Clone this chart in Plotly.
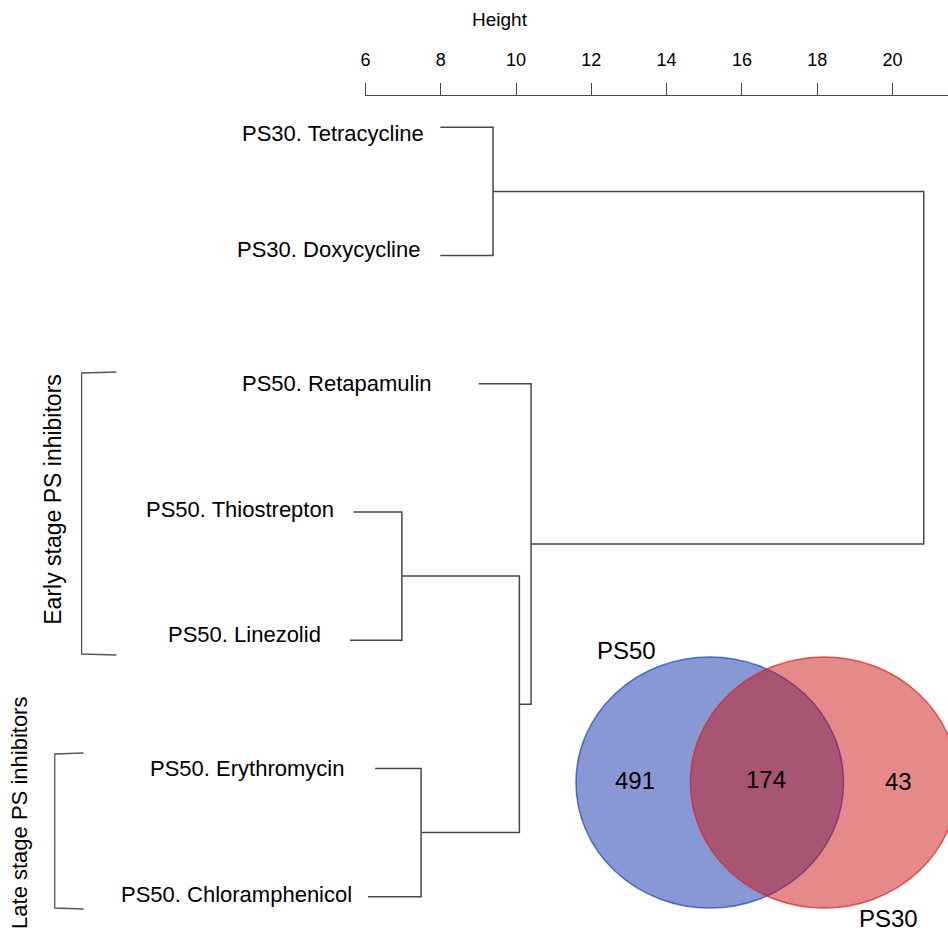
import plotly.graph_objects as go

# ---------------- data ----------------
leaf_labels = ["PS30. Tetracycline", "PS30. Doxycycline", "PS50. Retapamulin",
               "PS50. Thiostrepton", "PS50. Linezolid", "PS50. Erythromycin",
               "PS50. Chloramphenicol"]
leaf_heights = [7.99, 7.99, 9.01, 5.69, 5.59, 6.26, 6.07]
# merges (children: "L#" = leaf index, "C#" = previous merge index)
merge_left = ["L0", "L3", "L5", "C1", "L2", "C0"]
merge_right = ["L1", "L4", "L6", "C2", "C3", "C4"]
merge_height = [9.39, 6.97, 7.48, 10.09, 10.40, 20.83]
height_ticks = [6, 8, 10, 12, 14, 16, 18, 20]

group_labels = ["Early stage PS inhibitors", "Late stage PS inhibitors"]
venn_sets = ["PS50", "PS30"]
venn_counts = [491, 174, 43]  # PS50 only, both, PS30 only

# ---------------- layout helpers (pixel geometry of the 948x937 canvas) ----------------
W, H = 948, 937
PX_X0, PX_PER_UNIT = 362.3, 37.85       # pixel of height 6, pixels per unit
PX_LEAF0, PX_PER_LEAF = 127.3, 128.23   # pixel of first leaf, spacing
x_min = 6 - PX_X0 / PX_PER_UNIT
x_max = 6 + (W - PX_X0) / PX_PER_UNIT
y_top = 1 - PX_LEAF0 / PX_PER_LEAF
y_bot = 1 + (H - PX_LEAF0) / PX_PER_LEAF

def px(x):
    return x / W

def py(y):
    return 1 - y / H

# ---------------- dendrogram segments ----------------
nodes = {}
for i, h in enumerate(leaf_heights):
    nodes["L%d" % i] = (h, i + 1)
xs, ys = [], []
for k, (a, b, h) in enumerate(zip(merge_left, merge_right, merge_height)):
    ax_, ay_ = nodes[a]
    bx_, by_ = nodes[b]
    xs += [ax_, h, h, bx_, None]
    ys += [ay_, ay_, by_, by_, None]
    nodes["C%d" % k] = (h, (ay_ + by_) / 2)

line_col = "#474747"
fig = go.Figure()
fig.add_trace(go.Scatter(x=xs, y=ys, mode="lines",
                         line=dict(color=line_col, width=1.5),
                         hoverinfo="skip", xaxis="x", yaxis="y"))
# invisible trace to host the top "Height" axis
fig.add_trace(go.Scatter(x=[height_ticks[0]], y=[0], mode="markers",
                         marker=dict(opacity=0), hoverinfo="skip",
                         xaxis="x2", yaxis="y2"))

font_main = "Liberation Sans, Arial, sans-serif"
font_narrow = "Liberation Sans Narrow, Liberation Sans, Arial, sans-serif"

annotations = []
# leaf labels: gap (px) to leaf end and vertical shift
label_gap = [14.5, 18.5, 45, 18, 27, 29, 14]
label_shift = [-6, 6, 0, 2, 6, 0, 2]
for i, lab in enumerate(leaf_labels):
    annotations.append(dict(x=leaf_heights[i], y=i + 1, xref="x", yref="y",
                            text=lab, showarrow=False, xanchor="right",
                            yanchor="middle", xshift=-label_gap[i],
                            yshift=label_shift[i],
                            font=dict(family=font_main, size=22, color="black")))
# axis title
annotations.append(dict(x=px(498), y=py(19), xref="paper", yref="paper",
                        text="Height", showarrow=False, xanchor="center",
                        yanchor="middle",
                        font=dict(family=font_narrow, size=19, color="black")))
# group labels (rotated)
grp_pos = [(48, 499), (14, 813)]
grp_size = [23, 22]
for lab, (gx, gy), gs in zip(group_labels, grp_pos, grp_size):
    annotations.append(dict(x=px(gx), y=py(gy), xref="paper", yref="paper",
                            text=lab, showarrow=False, textangle=-90,
                            xanchor="center", yanchor="middle",
                            font=dict(family=font_main, size=gs, color="black")))
# venn labels
set_pos = [(625, 650), (888, 918)]
for lab, (vx, vy) in zip(venn_sets, set_pos):
    annotations.append(dict(x=px(vx), y=py(vy), xref="paper", yref="paper",
                            text=lab, showarrow=False, xanchor="center",
                            yanchor="middle",
                            font=dict(family=font_main, size=24, color="black")))
count_pos = [(633, 780), (765, 779), (898, 781)]
for c, (vx, vy) in zip(venn_counts, count_pos):
    annotations.append(dict(x=px(vx), y=py(vy), xref="paper", yref="paper",
                            text=str(c), showarrow=False, xanchor="center",
                            yanchor="middle",
                            font=dict(family=font_main, size=24, color="black")))

shapes = []
# brackets
br_col = "#555555"
def bracket(x_in, x_out, y0, y1):
    return dict(type="path", xref="paper", yref="paper",
                path="M %f %f L %f %f L %f %f L %f %f" % (
                    px(x_in), py(y0), px(x_out), py(y0 + 1),
                    px(x_out), py(y1), px(x_in), py(y1 + 1)),
                line=dict(color=br_col, width=1.3))
shapes.append(bracket(112, 77, 372, 654))
shapes.append(bracket(79, 50, 753, 908))
# venn ellipses
shapes.append(dict(type="circle", xref="paper", yref="paper",
                   x0=px(574), x1=px(843), y0=py(908), y1=py(657),
                   fillcolor="rgba(17,49,169,0.5)",
                   line=dict(color="rgba(40,70,200,0.75)", width=1.5),
                   layer="below"))
shapes.append(dict(type="circle", xref="paper", yref="paper",
                   x0=px(689), x1=px(958), y0=py(908), y1=py(657),
                   fillcolor="rgba(202,15,15,0.49)",
                   line=dict(color="rgba(215,40,40,0.75)", width=1.5),
                   layer="below"))

axis_px = 96
fig.update_layout(
    width=W, height=H,
    margin=dict(l=0, r=0, t=0, b=0),
    paper_bgcolor="white", plot_bgcolor="rgba(0,0,0,0)",
    showlegend=False,
    xaxis=dict(domain=[0, 1], range=[x_min, x_max], visible=False, fixedrange=True),
    yaxis=dict(domain=[0, 1], range=[y_bot, y_top], visible=False, fixedrange=True),
    xaxis2=dict(domain=[PX_X0 / W, 1], range=[5.999, x_max], anchor="y2",
                side="top", showline=True, linecolor=line_col, linewidth=1.3,
                ticks="outside", ticklen=12, tickwidth=1.3, tickcolor=line_col,
                tickvals=height_ticks, showgrid=False, zeroline=False,
                ticklabelstandoff=10,
                tickfont=dict(family=font_narrow, size=18, color="black"),
                fixedrange=True),
    yaxis2=dict(domain=[py(axis_px) - 0.05, py(axis_px)], range=[0, 1],
                visible=False, fixedrange=True),
    annotations=annotations,
    shapes=shapes,
)

fig.write_html("out.html")
